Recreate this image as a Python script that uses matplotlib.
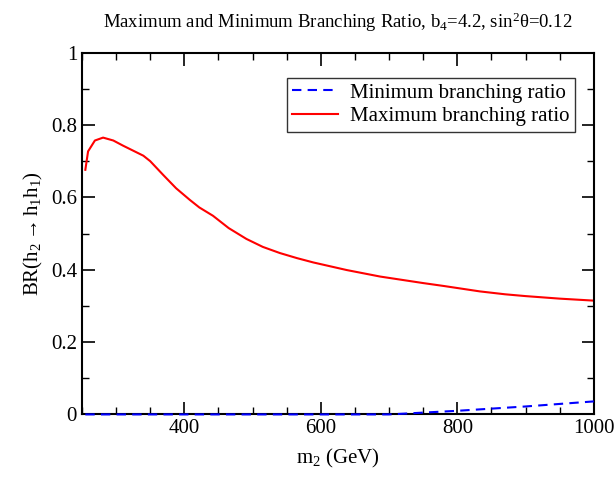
import matplotlib
matplotlib.use("Agg")
import matplotlib.pyplot as plt
from matplotlib.ticker import MultipleLocator

# ------------------------------
# Data
# ------------------------------
m2_max = [255, 259, 269, 281, 296, 310, 325, 340, 350, 369, 388, 408, 422, 442,
          465, 491, 515, 540, 565, 589, 638, 687, 750, 780, 833, 870, 900, 950, 1000]
br_max = [0.676, 0.727, 0.757, 0.765, 0.757, 0.743, 0.729, 0.715, 0.700, 0.662,
          0.625, 0.593, 0.572, 0.549, 0.515, 0.485, 0.463, 0.446, 0.432, 0.420,
          0.399, 0.381, 0.363, 0.355, 0.340, 0.332, 0.327, 0.320, 0.3145]

m2_min = [255, 300, 400, 500, 600, 700, 750, 800, 850, 900, 950, 1000]
br_min = [0.0, 0.0, 0.0, 0.0, 0.0, 0.0, 0.005, 0.010, 0.016, 0.022, 0.029, 0.036]

# ------------------------------
# Style
# ------------------------------
plt.rcParams["font.family"] = ["Liberation Serif", "DejaVu Serif"]
plt.rcParams["mathtext.fontset"] = "custom"
plt.rcParams["mathtext.rm"] = "Liberation Serif"
plt.rcParams["mathtext.it"] = "Liberation Serif:italic"

fig = plt.figure(figsize=(6.16, 4.78), dpi=100)
ax = fig.add_axes([0.133, 0.133, 0.831, 0.757])

ax.plot(m2_min, br_min, color="blue", linestyle=(0, (4.5, 3)), lw=1.5,
        label="Minimum branching ratio", zorder=3, clip_on=False)
ax.plot(m2_max, br_max, color="red", lw=1.5, label="Maximum branching ratio")

ax.set_xlim(250, 1000)
ax.set_ylim(0, 1)
ax.xaxis.set_major_locator(MultipleLocator(200))
ax.xaxis.set_minor_locator(MultipleLocator(50))
ax.yaxis.set_minor_locator(MultipleLocator(0.1))
ax.set_yticks([0, 0.2, 0.4, 0.6, 0.8, 1.0])
ax.set_yticklabels(["0", "0.2", "0.4", "0.6", "0.8", "1"])

ax.tick_params(which="both", direction="in", top=True, right=True, labelsize=15)
ax.tick_params(which="major", length=9, width=1.2)
ax.tick_params(which="minor", length=5, width=1.0)
for s in ax.spines.values():
    s.set_linewidth(1.5)

ax.set_xlabel("m$_2$ (GeV)", fontsize=15, labelpad=6)
ax.set_ylabel("BR(h$_2$$\\rightarrow$h$_1$h$_1$)", fontsize=15, labelpad=4)
ax.set_title("Maximum and Minimum Branching Ratio, b$_4$=4.2, sin$^2$θ=0.12",
             fontsize=13.5, pad=18)

leg = ax.legend(loc="upper right", bbox_to_anchor=(0.963, 0.93), fontsize=15,
                frameon=True, fancybox=False, edgecolor="black",
                borderpad=0.25, handlelength=2.2, handletextpad=0.6,
                labelspacing=0.2, borderaxespad=0)
leg.get_frame().set_linewidth(1.0)

fig.savefig("out.png", dpi=100)
